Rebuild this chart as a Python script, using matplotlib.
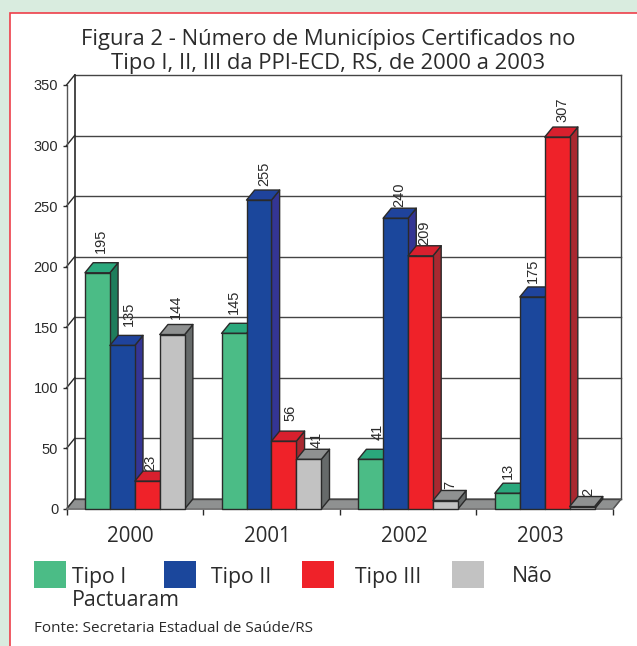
import matplotlib
matplotlib.use("Agg")
import matplotlib.pyplot as plt
from matplotlib.patches import Polygon, Rectangle

W, H = 637, 646

years = ["2000", "2001", "2002", "2003"]
tipo_1 = [195, 145, 41, 13]
tipo_2 = [135, 255, 240, 175]
tipo_3 = [23, 56, 209, 307]
nao_pactuaram = [144, 41, 7, 2]
y_ticks = [0, 50, 100, 150, 200, 250, 300, 350]

# front, top, side shades per series
colors = [
    ("#4bbc86", "#2aa87c", "#1e7d5c"),
    ("#1b479c", "#1f439c", "#343594"),
    ("#ef2229", "#d8202e", "#a92830"),
    ("#c2c2c2", "#8f9191", "#666a6a"),
]
FLOOR = "#8f9191"
LINE = "#2a2a2a"
TEXT = "#2b2b2b"

# fake 3d depth, in data units
DX = 0.06
DY = 8.3
BAR_W = 0.1825
BAR_START = 0.135

# hand nudges for the value labels in pixels (right, down), one row per series
label_nudge = [
    [(0, 0), (-4, 0), (3, 0), (-3, 5)],
    [(3, 0), (1, 6), (0, 8), (-3, 6)],
    [(-1, 10), (3, 0), (0, 9), (1, 5)],
    [(0, 4), (4, 8), (1, 8), (2, 9)],
]


def px_rect(x0, y0, x1, y1):
    # pixel box (y down) to figure fraction
    return [x0 / W, 1 - y1 / H, (x1 - x0) / W, (y1 - y0) / H]


def box3d(ax, x, w, h, shades):
    front, top, side = shades
    kw = dict(edgecolor=LINE, linewidth=1.0, joinstyle="round", clip_on=False)
    ax.add_patch(Polygon([(x + w, 0), (x + w + DX, DY), (x + w + DX, h + DY), (x + w, h)], facecolor=side, zorder=3, **kw))
    ax.add_patch(Polygon([(x, h), (x + DX, h + DY), (x + w + DX, h + DY), (x + w, h)], facecolor=top, zorder=3, **kw))
    ax.add_patch(Rectangle((x, 0), w, h, facecolor=front, zorder=3, **kw))


fig = plt.figure(figsize=(W / 100, H / 100), dpi=100, facecolor="#d9ecdf")

# white panel with thin red border
bg = fig.add_axes([0, 0, 1, 1])
bg.set_axis_off()
bg.set_xlim(0, W)
bg.set_ylim(H, 0)
bg.add_patch(Rectangle((9.5, 12.5), W, H, facecolor="white", edgecolor="#ee3f4a", linewidth=1.2))

ax = fig.add_axes(px_rect(66.5, 85, 613, 509))
ax.set_xlim(0, 4)
ax.set_ylim(0, 350)
ax.patch.set_visible(False)
for s in ax.spines.values():
    s.set_visible(False)

# floor
ax.add_patch(Polygon([(0, 0), (DX, DY), (4 + DX, DY), (4, 0)], facecolor=FLOOR, edgecolor="#6f6f6f", linewidth=1.0, clip_on=False, zorder=1))

# back wall grid and left wall
for v in y_ticks:
    ax.plot([DX, 4 + DX], [v + DY, v + DY], color="#444444", linewidth=1.0, clip_on=False, zorder=1)
    ax.plot([0, DX], [v, v + DY], color=LINE, linewidth=1.0, clip_on=False, zorder=1)
ax.plot([0, 0], [0, 350], color="#555555", linewidth=1.0, clip_on=False, zorder=1)
ax.plot([DX, DX], [DY, 350 + DY], color=LINE, linewidth=1.2, clip_on=False, zorder=1)
ax.plot([4 + DX, 4 + DX], [DY, 350 + DY], color="#444444", linewidth=1.0, clip_on=False, zorder=1)
ax.plot([4, 4 + DX], [0, DY], color="#555555", linewidth=1.0, clip_on=False, zorder=1)
ax.plot([0, 4], [0, 0], color="#777777", linewidth=1.2, clip_on=False, zorder=2)

all_values = [tipo_1, tipo_2, tipo_3, nao_pactuaram]
for i, year in enumerate(years):
    for j, vals in enumerate(all_values):
        x = i + BAR_START + j * BAR_W
        box3d(ax, x, BAR_W, vals[i], colors[j])
        nx, ny = label_nudge[j][i]
        ax.annotate(str(vals[i]), xy=(x + BAR_W / 2 + 0.028, vals[i] + DY + 8), xytext=(nx, -ny),
                    textcoords="offset pixels", rotation=90, ha="center", va="bottom",
                    fontsize=10.5, family="Liberation Sans", color=TEXT, zorder=5, annotation_clip=False)

ax.set_yticks(y_ticks)
ax.set_xticks(range(5))
ax.set_xticklabels([])
ax.tick_params(axis="y", length=3, width=1.0, color=LINE, labelsize=10.5, labelcolor=TEXT, pad=3)
ax.tick_params(axis="x", length=4, width=1.0, color=LINE)
for lab in ax.get_yticklabels():
    lab.set_family("Liberation Sans")

for i, year in enumerate(years):
    ax.text(i + 0.47, -14, year, ha="center", va="top", fontsize=14.8, family="Open Sans", color=TEXT)

# title
bg.text(328, 45, "Figura 2 - Número de Municípios Certificados no", ha="center", va="baseline",
        fontsize=15.8, family="Open Sans", color=TEXT)
bg.text(328, 69, "Tipo I, II, III da PPI-ECD, RS, de 2000 a 2003", ha="center", va="baseline",
        fontsize=15.8, family="Open Sans", color=TEXT)

# legend, text wraps the way the original does
swatch_x = [34, 164, 302, 452]
label_x = [72, 211, 355, 512]
labels = ["Tipo I", "Tipo II", "Tipo III", "Não"]
for sx, lx, lab, c in zip(swatch_x, label_x, labels, colors):
    bg.add_patch(Rectangle((sx, 561), 32, 27, facecolor=c[0], edgecolor="none"))
    bg.text(lx, 582.5, lab, ha="left", va="baseline", fontsize=15.3, family="Open Sans", color=TEXT)
bg.text(72, 606.5, "Pactuaram", ha="left", va="baseline", fontsize=15.3, family="Open Sans", color=TEXT)
bg.text(34, 631.5, "Fonte: Secretaria Estadual de Saúde/RS", ha="left", va="baseline", fontsize=11,
        family="Open Sans", color=TEXT)

fig.savefig("out.png", dpi=100, facecolor=fig.get_facecolor())
